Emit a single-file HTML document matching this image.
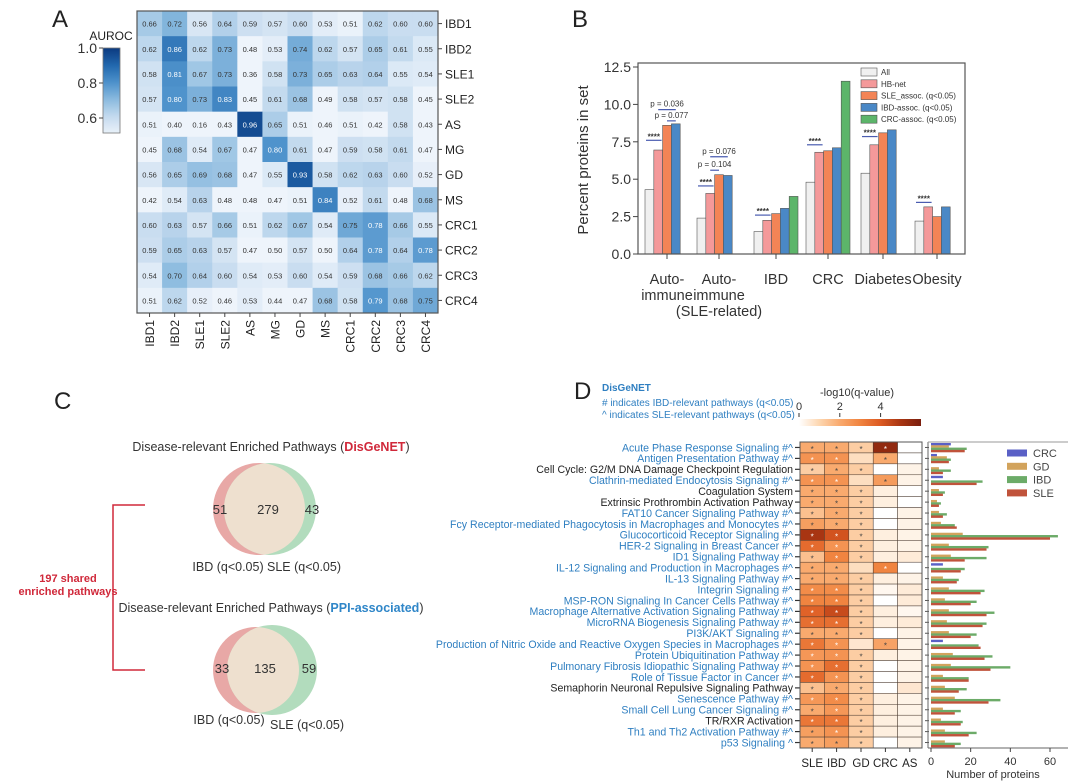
<!DOCTYPE html>
<html><head><meta charset="utf-8">
<style>
html,body{margin:0;padding:0;background:#fff;}
svg{display:block;font-family:"Liberation Sans",sans-serif;}
</style></head>
<body>
<svg id="fig" width="1080" height="782" viewBox="0 0 1080 782" xmlns="http://www.w3.org/2000/svg">
<g id="pA"></g>
<g id="pB"></g>
<g id="pC"></g>
<g id="pD"></g>
</svg>
<script>
// ---------- Panel A data ----------
const aLabels = ["IBD1","IBD2","SLE1","SLE2","AS","MG","GD","MS","CRC1","CRC2","CRC3","CRC4"];
const aRow0 = [.66,.72,.56,.64,.59,.57,.60,.53,.51,.62,.60,.60];
const aRow1 = [.62,.86,.62,.73,.48,.53,.74,.62,.57,.65,.61,.55];
const aRow2 = [.58,.81,.67,.73,.36,.58,.73,.65,.63,.64,.55,.54];
const aRow3 = [.57,.80,.73,.83,.45,.61,.68,.49,.58,.57,.58,.45];
const aRow4 = [.51,.40,.16,.43,.96,.65,.51,.46,.51,.42,.58,.43];
const aRow5 = [.45,.68,.54,.67,.47,.80,.61,.47,.59,.58,.61,.47];
const aRow6 = [.56,.65,.69,.68,.47,.55,.93,.58,.62,.63,.60,.52];
const aRow7 = [.42,.54,.63,.48,.48,.47,.51,.84,.52,.61,.48,.68];
const aRow8 = [.60,.63,.57,.66,.51,.62,.67,.54,.75,.78,.66,.55];
const aRow9 = [.59,.65,.63,.57,.47,.50,.57,.50,.64,.78,.64,.78];
const aRow10 = [.54,.70,.64,.60,.54,.53,.60,.54,.59,.68,.66,.62];
const aRow11 = [.51,.62,.52,.46,.53,.44,.47,.68,.58,.79,.68,.75];
const aRows = [aRow0,aRow1,aRow2,aRow3,aRow4,aRow5,aRow6,aRow7,aRow8,aRow9,aRow10,aRow11];
const aCbTicks = [1.0,0.8,0.6];

// ---------- Panel B data ----------
const bCategories = [["Auto-","immune"],["Auto-","immune","(SLE-related)"],["IBD"],["CRC"],["Diabetes"],["Obesity"]];
const bAll = [4.3,2.4,1.5,4.8,5.4,2.2];
const bHB = [6.95,4.05,2.25,6.8,7.3,3.15];
const bSLE = [8.6,5.3,2.7,6.9,8.1,2.5];
const bIBD = [8.7,5.25,3.05,7.1,8.3,3.15];
const bCRC = [null,null,3.85,11.55,null,null];
const bSeriesNames = ["All","HB-net","SLE_assoc. (q<0.05)","IBD-assoc. (q<0.05)","CRC-assoc. (q<0.05)"];
const bTicks = [0,2.5,5,7.5,10,12.5];
const bStarLevel = [7.6,4.55,2.6,7.3,7.85,3.45];

// ---------- Panel C data ----------
const cVenn1 = [51,279,43];
const cVenn2 = [33,135,59];

// ---------- Panel D data ----------
const dPathways = ["Acute Phase Response Signaling #^","Antigen Presentation Pathway #^","Cell Cycle: G2/M DNA Damage Checkpoint Regulation","Clathrin-mediated Endocytosis Signaling #^","Coagulation System","Extrinsic Prothrombin Activation Pathway","FAT10 Cancer Signaling Pathway #^","Fcy Receptor-mediated Phagocytosis in Macrophages and Monocytes #^","Glucocorticoid Receptor Signaling #^","HER-2 Signaling in Breast Cancer #^","ID1 Signaling Pathway #^","IL-12 Signaling and Production in Macrophages #^","IL-13 Signaling Pathway #^","Integrin Signaling #^","MSP-RON Signaling In Cancer Cells Pathway #^","Macrophage Alternative Activation Signaling Pathway #^","MicroRNA Biogenesis Signaling Pathway #^","PI3K/AKT Signaling #^","Production of Nitric Oxide and Reactive Oxygen Species in Macrophages #^","Protein Ubiquitination Pathway #^","Pulmonary Fibrosis Idiopathic Signaling Pathway #^","Role of Tissue Factor in Cancer #^","Semaphorin Neuronal Repulsive Signaling Pathway","Senescence Pathway #^","Small Cell Lung Cancer Signaling #^","TR/RXR Activation","Th1 and Th2 Activation Pathway #^","p53 Signaling ^"];
const dBlack = [2,4,5,22,25];
const dCols = ["SLE","IBD","GD","CRC","AS"];
const dSLE = [2,2.6,1.2,2.6,2,2,1.5,2.3,5,3.6,1.5,2,2,2.8,3,3.8,3.5,2,3.3,2.5,2.6,3.6,1.5,2.5,2,3.3,2.3,2];
const dIBD = [2,2.6,2,2.6,2,2,2,2,4.2,2.6,3,2,2,2.8,3,4.4,3.5,2,2.6,2.6,3.5,2.6,2,2.8,2.5,3.3,2.6,2.3];
const dGD = [1.2,0.8,1.2,0.8,1.2,1.2,1.2,1.2,1.2,1.2,1.2,0.8,1.2,1.2,1.2,1.2,1.2,1.2,0.6,1.2,1.2,1.2,1.2,1.2,1.2,1.2,1.2,1.2];
const dCRC = [5.5,2,0,2.4,0.4,0.4,0,0,0.4,0.4,0.4,3,0.4,0.2,0,0.4,0.4,0,2.2,0.4,0,0,0,0.4,0.4,0.4,0.4,0];
const dAS = [0,0,0.3,0.3,0,0,0.3,0.3,0.3,0.3,0.5,0,0.3,0.5,0.5,0.2,0.5,0.3,0.3,0.3,0.3,0.3,0.6,0.3,0.3,0.3,0.3,0.3];
const dnCRC = [10,3,0,6,0,0,0,0,0,0,0,6,0,0,0,0,0,0,6,0,0,0,0,0,0,0,0,0];
const dnGD = [9,8,4,0,4,3,4,5,16,9,10,0,6,9,7,9,8,9,0,11,10,6,7,12,6,5,7,7];
const dnIBD = [18,10,10,26,7,5,8,12,64,29,28,17,14,27,23,32,28,23,24,31,40,19,18,35,15,16,23,15];
const dnSLE = [17,9,6,23,6,4,6,13,60,28,17,15,13,25,20,28,26,20,25,27,30,19,14,29,12,15,19,12];
const dXTicks = [0,20,40,60];
const dCbTicks = [0,2,4];

// ---------- helpers ----------
const NS = "http://www.w3.org/2000/svg";
function mk(parent, tag, attrs, text){
  const el = document.createElementNS(NS, tag);
  for (const k in attrs) el.setAttribute(k, attrs[k]);
  if (text !== undefined) el.textContent = text;
  parent.appendChild(el);
  return el;
}
function lerpHex(a,b,t){
  const pa=[1,3,5].map(i=>parseInt(a.substr(i,2),16)), pb=[1,3,5].map(i=>parseInt(b.substr(i,2),16));
  return "rgb("+pa.map((v,i)=>Math.round(v+(pb[i]-v)*t)).join(",")+")";
}
function scaleColor(stops, cols, v){
  if (v<=stops[0]) return lerpHex(cols[0],cols[0],0);
  for (let i=1;i<stops.length;i++){
    if (v<=stops[i]) return lerpHex(cols[i-1],cols[i],(v-stops[i-1])/(stops[i]-stops[i-1]));
  }
  return lerpHex(cols[cols.length-1],cols[cols.length-1],0);
}
const blueStops=[0.5,0.6,0.7,0.8,0.9,1.0], blueCols=["#eef4fb","#c9ddf0","#8fbde0","#4f93cc","#2268ae","#0b3a80"];
const orStops=[0,1,2,3,4,5,6], orCols=["#ffffff","#fdd6b0","#f9aa6e","#f08440","#dc5a22","#a83512","#7a1e0e"];

// ---------- Panel A ----------
(function(){
  const g = document.getElementById("pA");
  let t = mk(g,"text",{x:52,y:27,"font-size":24,fill:"#222"},"A");
   
  const x0=137, y0=11, cw=(438-137)/12, ch=(313-11)/12;
  aRows.forEach((row,r)=>{
    row.forEach((v,c)=>{
      const rect = mk(g,"rect",{x:x0+c*cw,y:y0+r*ch,width:cw+0.3,height:ch+0.3,fill:scaleColor(blueStops,blueCols,v)});
      
      
      const tx = mk(g,"text",{x:x0+c*cw+cw/2,y:y0+r*ch+ch/2+3,"font-size":7.5,"text-anchor":"middle",fill:v>0.75?"#fff":"#333"},v.toFixed(2));
      
      
    });
  });
  const bx = mk(g,"rect",{x:x0,y:y0,width:301,height:302,fill:"none",stroke:"#555","stroke-width":1.2});
   
  aLabels.forEach((l,i)=>{
    const yy=y0+i*ch+ch/2;
    mk(g,"line",{x1:438,x2:442,y1:yy,y2:yy,stroke:"#444"});
    const rl = mk(g,"text",{x:445,y:yy+4.5,"font-size":12,fill:"#222"},l);
     
    const xx=x0+i*cw+cw/2;
    mk(g,"line",{x1:xx,x2:xx,y1:313,y2:317,stroke:"#444"});
    const cl = mk(g,"text",{x:xx+4.5,y:320,"font-size":12,fill:"#222","text-anchor":"end",transform:`rotate(-90 ${xx+4.5} 320)`},l);
     
  });
  const defs = mk(g,"defs",{});
  const lg = mk(defs,"linearGradient",{id:"gA",x1:0,y1:1,x2:0,y2:0});
  for(let i=0;i<=10;i++){ const v=0.515+0.485*i/10; mk(lg,"stop",{offset:i/10,"stop-color":scaleColor(blueStops,blueCols,v)}); }
  const cb = mk(g,"rect",{x:103,y:48,width:17,height:85,fill:"url(#gA)",stroke:"#777","stroke-width":0.8});
   
  const ct = mk(g,"text",{x:111,y:40,"font-size":12,"text-anchor":"middle",fill:"#222"},"AUROC");
   
  aCbTicks.forEach(v=>{
    const yy = 48 + (1.0-v)/0.2*35;
    mk(g,"line",{x1:99,x2:103,y1:yy,y2:yy,stroke:"#444"});
    const tl = mk(g,"text",{x:97,y:yy+5,"font-size":14,"text-anchor":"end",fill:"#333"},v.toFixed(1));
     
  });
})();

// ---------- Panel B ----------
(function(){
  const g = document.getElementById("pB");
  let t = mk(g,"text",{x:572,y:27,"font-size":24,fill:"#222"},"B");
   
  const L=638,R=965,T=63,B=254;
  const yS = v => B - v*(B-67)/12.5;
  const centers = [667,719,776,828,883,937];
  const bw = 8.8;
  const series = [bAll,bHB,bSLE,bIBD,bCRC];
  const colors = ["#f0f0f0","#f4999a","#f38456","#4a88c6","#5cb56a"];
  series.forEach((s,si)=>{
    s.forEach((v,ci)=>{
      if(v===null) return;
      const x = centers[ci] - 2.5*bw + si*bw;
      const r = mk(g,"rect",{x:x,y:yS(v),width:bw,height:B-yS(v),fill:colors[si],stroke:"#555","stroke-width":0.6});
      
      
    });
  });
  const fr = mk(g,"rect",{x:L,y:T,width:R-L,height:B-T,fill:"none",stroke:"#555","stroke-width":1.2});
   
  bTicks.forEach(v=>{
    mk(g,"line",{x1:L-5,x2:L,y1:yS(v),y2:yS(v),stroke:"#444"});
    const tl = mk(g,"text",{x:L-7,y:yS(v)+5,"font-size":14,"text-anchor":"end",fill:"#333"},v.toFixed(1));
     
  });
  const yl = mk(g,"text",{x:588,y:160,"font-size":15,"text-anchor":"middle",fill:"#333",transform:"rotate(-90 588 160)"},"Percent proteins in set");
   
  bCategories.forEach((lines,i)=>{
    mk(g,"line",{x1:centers[i],x2:centers[i],y1:B,y2:B+5,stroke:"#444"});
    lines.forEach((ln,j)=>{
      const tl = mk(g,"text",{x:centers[i],y:284+j*16,"font-size":14.5,"text-anchor":"middle",fill:"#333"},ln);
       
    });
  });
  bStarLevel.forEach((lv,i)=>{
    const x1 = centers[i]-2.5*bw+1, x2 = centers[i]-0.5*bw-1;
    const yy = yS(lv);
    mk(g,"line",{x1:x1,x2:x2,y1:yy,y2:yy,stroke:"#4a5cb0","stroke-width":1.2});
    const st = mk(g,"text",{x:(x1+x2)/2,y:yy-1,"font-size":8,"font-weight":"bold","text-anchor":"middle",fill:"#333"},"****");
     
  });
  const pAnn = [[0,0.036,9.65,1,3],[0,0.077,8.9,2,3],[1,0.104,5.6,1,2],[1,0.076,6.5,1,3]];
  pAnn.forEach(p=>{
    const c=centers[p[0]];
    const x1=c-2.5*bw+p[3]*bw+bw/2, x2=c-2.5*bw+p[4]*bw+bw/2;
    const yy=yS(p[2]);
    mk(g,"line",{x1:x1,x2:x2,y1:yy,y2:yy,stroke:"#4a5cb0","stroke-width":1.2});
    const tx = mk(g,"text",{x:(x1+x2)/2,y:yy-3,"font-size":8,"text-anchor":"middle",fill:"#333"},"p = "+p[1].toFixed(3));
     
  });
  bSeriesNames.forEach((n,i)=>{
    const yy = 72 + i*11.8;
    const sw = mk(g,"rect",{x:861,y:yy-4,width:16,height:8,fill:colors[i],stroke:"#555","stroke-width":0.6});
     
    const lt = mk(g,"text",{x:881,y:yy+3,"font-size":8,fill:"#333"},n);
     
  });
})();

// ---------- Panel C ----------
(function(){
  const g = document.getElementById("pC");
  let t = mk(g,"text",{x:54,y:409,"font-size":24,fill:"#222"},"C");
   
  function venn(ty, tail, tailColor, cy, rcx, rr, gcx, gr, nums, numY, numX, labY, labX, key){
    const title = mk(g,"text",{x:271,y:ty,"font-size":12.5,"text-anchor":"middle",fill:"#333"});
     
    mk(title,"tspan",{},"Disease-relevant Enriched Pathways (");
    mk(title,"tspan",{fill:tailColor,"font-weight":"bold"},tail);
    mk(title,"tspan",{},")");
    const cpid="clip"+key;
    const defs=mk(g,"defs",{}); const cp=mk(defs,"clipPath",{id:cpid}); mk(cp,"circle",{cx:rcx,cy:cy,r:rr});
    const c1=mk(g,"circle",{cx:rcx,cy:cy,r:rr,fill:"#e8a8a6"});
     
    const c2=mk(g,"circle",{cx:gcx,cy:cy,r:gr,fill:"#b2dcbd"});
     
    const ov=mk(g,"circle",{cx:gcx,cy:cy,r:gr,fill:"#eee0cf","clip-path":`url(#${cpid})`});
     
    nums.forEach((n,i)=>{
      const nt=mk(g,"text",{x:numX[i],y:numY+5,"font-size":13,"text-anchor":"middle",fill:"#333"},String(n));
       
    });
    const l1=mk(g,"text",{x:labX[0],y:labY[0]+5,"font-size":12.5,"text-anchor":"middle",fill:"#333"},"IBD (q<0.05)");
     
    const l2=mk(g,"text",{x:labX[1],y:labY[1]+5,"font-size":12.5,"text-anchor":"middle",fill:"#333"},"SLE (q<0.05)");
     
  }
  venn(451,"DisGeNET","#d0283a",509,259,46,270,46,cVenn1,509,[220,268,312],[566,566],[228,304],"disgenet");
  venn(612,"PPI-associated","#2f86c8",670,256,43,272,45,cVenn2,668,[222,265,309],[719,724],[229,307],"ppi");
  const br = mk(g,"path",{d:"M145 505 H113 V670 H145",fill:"none",stroke:"#d0283a","stroke-width":1.5});
   
  const s1=mk(g,"text",{x:68,y:582,"font-size":11,"font-weight":"bold","text-anchor":"middle",fill:"#d0283a"},"197 shared");
   
  const s2=mk(g,"text",{x:68,y:595,"font-size":11,"font-weight":"bold","text-anchor":"middle",fill:"#d0283a"},"enriched pathways");
   
})();

// ---------- Panel D ----------
(function(){
  const g = document.getElementById("pD");
  let t = mk(g,"text",{x:574,y:399,"font-size":24,fill:"#222"},"D");
   
  const h1=mk(g,"text",{x:602,y:391,"font-size":10,"font-weight":"bold",fill:"#2f7fc1"},"DisGeNET");
   
  const h2=mk(g,"text",{x:602,y:406,"font-size":10,fill:"#2f7fc1"},"# indicates IBD-relevant pathways (q<0.05)");
   
  const h3=mk(g,"text",{x:602,y:418,"font-size":10,fill:"#2f7fc1"},"^ indicates SLE-relevant pathways (q<0.05)");
   
  const defs=mk(g,"defs",{});
  const lg=mk(defs,"linearGradient",{id:"gD",x1:0,y1:0,x2:1,y2:0});
  for(let i=0;i<=12;i++){ mk(lg,"stop",{offset:i/12,"stop-color":scaleColor(orStops,orCols,6*i/12)}); }
  const cb=mk(g,"rect",{x:799,y:419,width:122,height:7,fill:"url(#gD)"});
   
  const cbt=mk(g,"text",{x:857,y:396,"font-size":11,"text-anchor":"middle",fill:"#333"},"-log10(q-value)");
   
  dCbTicks.forEach(v=>{
    const xx=799+v*20.4;
    mk(g,"line",{x1:xx,x2:xx,y1:413,y2:417,stroke:"#333"});
    const tl=mk(g,"text",{x:xx,y:410,"font-size":11,"text-anchor":"middle",fill:"#333"},String(v));
     
  });
  const hx=800, hy=442, cw=24.4, rh=(748-442)/dPathways.length;
  const cols=[dSLE,dIBD,dGD,dCRC,dAS];
  dPathways.forEach((p,r)=>{
    const yy=hy+r*rh;
    cols.forEach((arr,c)=>{
      const v=arr[r];
      const cell=mk(g,"rect",{x:hx+c*cw,y:yy,width:cw,height:rh,fill:scaleColor(orStops,orCols,v),stroke:"#4a3a30","stroke-width":0.5});
      
      
      if(v>=1){
        const st=mk(g,"text",{x:hx+c*cw+cw/2,y:yy+rh/2+4.5,"font-size":8,"text-anchor":"middle",fill:v>=2.5?"#fff":"#444"},"*");
         
      }
    });
    mk(g,"line",{x1:hx-5,x2:hx,y1:yy+rh/2,y2:yy+rh/2,stroke:"#333","stroke-width":1.2});
    const lbl=mk(g,"text",{x:hx-7,y:yy+rh/2+3.8,"font-size":10.6,"text-anchor":"end",fill:dBlack.includes(r)?"#222":"#2f7fc1"},p);
     
  });
  const hf=mk(g,"rect",{x:hx,y:hy,width:cw*5,height:748-hy,fill:"none",stroke:"#555","stroke-width":1});
   
  dCols.forEach((c,i)=>{
    const xx=hx+i*cw+cw/2;
    mk(g,"line",{x1:xx,x2:xx,y1:748,y2:752,stroke:"#333"});
    const cl=mk(g,"text",{x:xx,y:767,"font-size":11.5,"text-anchor":"middle",fill:"#222"},c);
     
  });
  const bx0=931, xs=v=>bx0+v*(1050-931)/60;
  const nSeries=[dnCRC,dnGD,dnIBD,dnSLE], nColors=["#5a60c6","#d2a35c","#6cab68","#c0533b"], nNames=["CRC","GD","IBD","SLE"];
  dPathways.forEach((p,r)=>{
    const yy=hy+r*rh+1;
    mk(g,"line",{x1:925,x2:929,y1:yy+rh/2-1,y2:yy+rh/2-1,stroke:"#555"});
    nSeries.forEach((arr,si)=>{
      const v=arr[r]; if(!v) return;
      const b=mk(g,"rect",{x:bx0,y:yy+si*2.3,width:xs(v)-bx0,height:2.4,fill:nColors[si]});
      
      
    });
  });
  mk(g,"line",{x1:928,x2:928,y1:442,y2:748,stroke:"#666"});
  mk(g,"line",{x1:928,x2:1068,y1:442,y2:442,stroke:"#999"});
  mk(g,"line",{x1:928,x2:1068,y1:748,y2:748,stroke:"#666"});
  dXTicks.forEach(v=>{
    mk(g,"line",{x1:xs(v),x2:xs(v),y1:748,y2:752,stroke:"#444"});
    const tl=mk(g,"text",{x:xs(v),y:765,"font-size":11,"text-anchor":"middle",fill:"#333"},String(v));
     
  });
  const xt=mk(g,"text",{x:993,y:778,"font-size":11,"text-anchor":"middle",fill:"#333"},"Number of proteins");
   
  nNames.forEach((n,i)=>{
    const yy=453+i*13.3;
    const sw=mk(g,"rect",{x:1007,y:yy-3.5,width:20,height:7,fill:nColors[i]});
     
    const lt=mk(g,"text",{x:1033,y:yy+4,"font-size":11,fill:"#444"},n);
     
  });
})();
</script>
</body></html>
